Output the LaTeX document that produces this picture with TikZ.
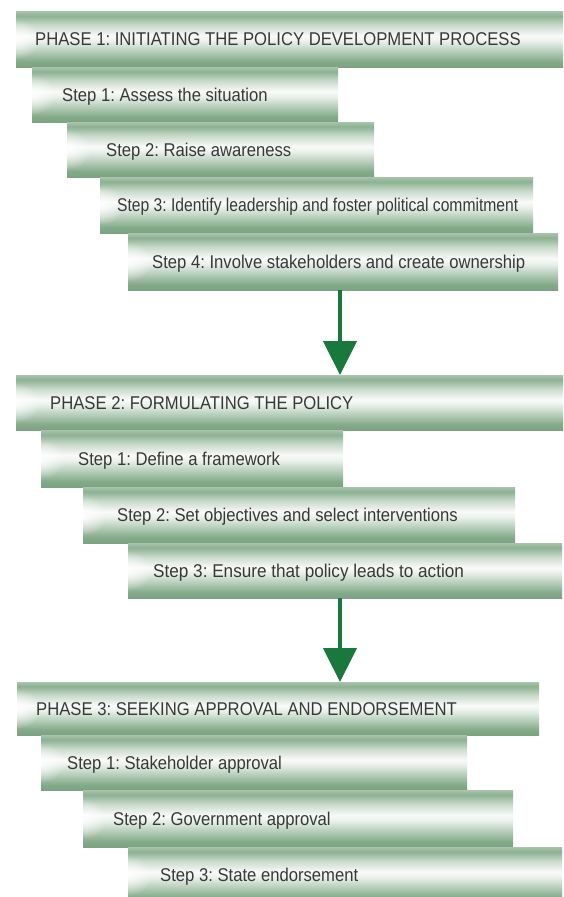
\documentclass[tikz,border=0pt]{standalone}
\usepackage{graphicx}
\usepackage{fontspec}
\setmainfont{Liberation Sans}[FakeStretch=0.9]
\usetikzlibrary{arrows.meta,fadings}
\definecolor{gd}{RGB}{130,170,136}
\definecolor{arrowc}{RGB}{25,120,60}
\definecolor{txtc}{RGB}{55,57,55}
\pgfdeclareverticalshading{barshade}{100bp}{%
  color(0bp)=(gd!95!black); color(25bp)=(gd!95!black); color(30bp)=(gd);
  color(48bp)=(white!82!gd); color(53bp)=(white!95!gd);
  color(63bp)=(white!55!gd); color(71bp)=(gd!92!white); color(75bp)=(gd!70!white); color(100bp)=(gd!70!white)}
\tikzfading[name=glow, inner color=transparent!0, outer color=transparent!100]
\begin{document}
\frenchspacing
\begin{tikzpicture}[x=1pt,y=-1pt,
  bar/.style={rectangle, inner sep=0pt, anchor=north west, shading=barshade},
  lbl/.style={anchor=base west, inner sep=0pt, text=txtc, font=\fontsize{18.5}{20}\selectfont},
  flowarrow/.style={draw=arrowc, line width=4.5pt, -{Triangle[length=34pt,width=33pt]}}]
\useasboundingbox (0,0) rectangle (563,897);
\fill[white] (0,0) rectangle (563,897);
\clip (0,0) rectangle (563,897);
\coordinate (ax) at (340,0);
% Phase 1
\node[bar, minimum width=554pt, minimum height=56pt] (p1) at (16,11) {};
\node[bar, minimum width=306pt, minimum height=55pt] (p1s1) at (32,67) {};
\node[bar, minimum width=307pt, minimum height=55pt] (p1s2) at (67,122) {};
\node[bar, minimum width=433pt, minimum height=56pt] (p1s3) at (100,177) {};
\node[bar, minimum width=430pt, minimum height=57pt] (p1s4) at (128,233) {};
% Phase 2
\node[bar, minimum width=554pt, minimum height=55pt] (p2) at (16,375) {};
\node[bar, minimum width=302pt, minimum height=57pt] (p2s1) at (41,430) {};
\node[bar, minimum width=432pt, minimum height=56pt] (p2s2) at (83,487) {};
\node[bar, minimum width=434pt, minimum height=55pt] (p2s3) at (128,543) {};
% Phase 3
\node[bar, minimum width=522pt, minimum height=53pt] (p3) at (17,682) {};
\node[bar, minimum width=426pt, minimum height=55pt] (p3s1) at (41,735) {};
\node[bar, minimum width=430pt, minimum height=57pt] (p3s2) at (83,790) {};
\node[bar, minimum width=434pt, minimum height=56pt] (p3s3) at (128,847) {};
% left-end highlights
\foreach \b in {p1,p1s1,p1s2,p1s3,p1s4,p2,p2s1,p2s2,p2s3,p3,p3s1,p3s2,p3s3}{
  \begin{scope}
    \clip (\b.south west) rectangle (\b.north east);
    \fill[white, fill opacity=0.85, path fading=glow] (\b.west) ellipse [x radius=24pt, y radius=20pt];
  \end{scope}
}
% labels
\node[lbl] (t1) at (35,45.5) {PHASE 1: INITIATING THE POLICY DEVELOPMENT PROCESS};
\node[lbl] (t11) at (62,101) {Step 1: Assess the situation};
\node[lbl] (t12) at (106,156) {Step 2: Raise awareness};
\node[lbl] (t13) at (117,211.5) {\scalebox{0.94}[1]{Step 3: Identify leadership and foster political commitment}};
\node[lbl] (t14) at (152,268) {Step 4: Involve stakeholders and create ownership};
\node[lbl] (t2) at (50,409) {PHASE 2: FORMULATING THE POLICY};
\node[lbl] (t21) at (78,465) {Step 1: Define a framework};
\node[lbl] (t22) at (117,521.5) {Step 2: Set objectives and select interventions};
\node[lbl] (t23) at (153,577) {\scalebox{1.03}[1]{Step 3: Ensure that policy leads to action}};
\node[lbl] (t3) at (36,715) {PHASE 3: SEEKING APPROVAL AND ENDORSEMENT};
\node[lbl] (t31) at (67,769) {Step 1: Stakeholder approval};
\node[lbl] (t32) at (113,825) {Step 2: Government approval};
\node[lbl] (t33) at (160,881.5) {Step 3: State endorsement};
% arrows
\draw[flowarrow] (p1s4.south -| ax) -- (p2.north -| ax);
\draw[flowarrow] (p2s3.south -| ax) -- (p3.north -| ax);
\end{tikzpicture}
\end{document}
